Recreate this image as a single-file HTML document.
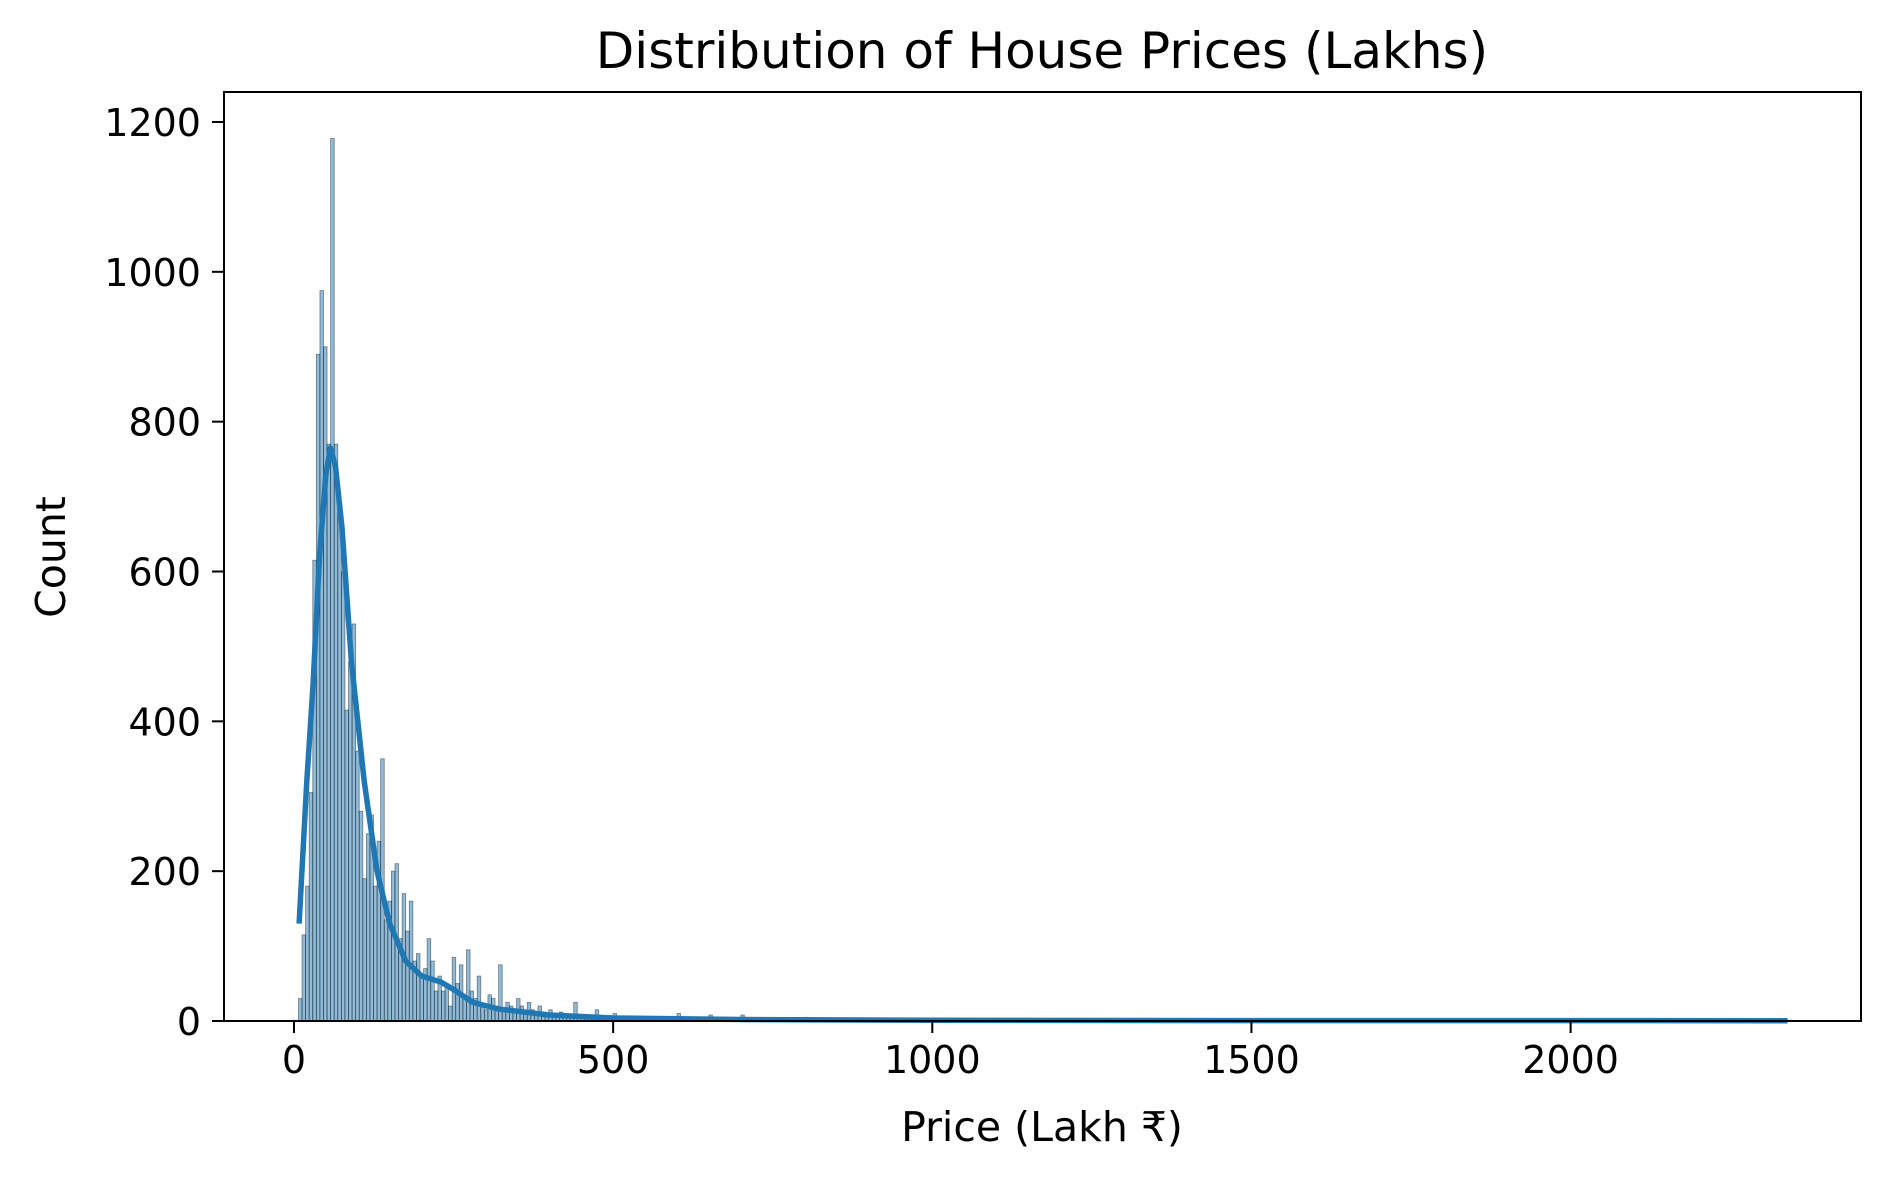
<!DOCTYPE html>
<html><head><meta charset="utf-8"><style>
body{margin:0;background:#fff}
svg text{font-family:"DejaVu Sans","Liberation Sans",sans-serif;fill:#000}
</style></head><body>
<svg id="chart" width="1881" height="1176" viewBox="0 0 1881 1176" xmlns="http://www.w3.org/2000/svg">
<rect width="1881" height="1176" fill="#fff"/>
<g id="bars"></g>
<g id="spikes"></g>
<path id="kde" fill="none" stroke="#1f77b4" stroke-width="5.5" stroke-linejoin="round"/>
<rect x="224" y="92" width="1637" height="929" fill="none" stroke="#000" stroke-width="2"/>
<g id="xticks"></g>
<g id="yticks"></g>
<text x="1042" y="68" font-size="50" text-anchor="middle">Distribution of House Prices (Lakhs)</text>
<text x="1042" y="1141" font-size="41" text-anchor="middle">Price (Lakh ₹)</text>
<text transform="translate(65,557) rotate(-90)" font-size="41" text-anchor="middle">Count</text>
</svg>
<script>
const binStart = 7;
const binWidth = 5.6;
const counts = [30,115,180,305,615,890,975,900,770,1178,770,685,600,415,480,530,360,280,190,250,275,180,240,350,135,160,200,210,110,170,120,160,80,90,60,70,110,80,40,60,40,50,20,85,50,75,30,95,40,30,60,20,15,35,30,20,75,15,25,20,15,30,20,12,25,15,10,20,12,8,15,10,8,12,6,8,5,25,5,6,4,5,3,15,4,3,2,3,10];
const tailPrices = [600,650,700,750,800,900,1000,1200,1500,2000,2340];
const tailCounts = [10,8,8,3,5,3,2,1,1,1,1];
const kdeX = [8,20,30,40,50,57,65,75,90,110,130,150,175,200,230,250,280,320,400,500,700,1000,1500,2340];
const kdeY = [130,320,450,620,730,765,740,660,480,320,200,130,80,60,52,42,25,16,8,4,2,1,0.6,0.4];
const xTicks = [0,500,1000,1500,2000];
const yTicks = [0,200,400,600,800,1000,1200];

const X = v => 294 + v * 0.6383;
const Y = v => 1021 - v * (899 / 1200);
const NS = 'http://www.w3.org/2000/svg';
function mk(tag, attrs, parent){const e=document.createElementNS(NS,tag);for(const k in attrs)e.setAttribute(k,attrs[k]);parent.appendChild(e);return e;}

const bars = document.getElementById('bars');
counts.forEach((c,i)=>{
  const x0 = X(binStart + i*binWidth), x1 = X(binStart + (i+1)*binWidth);
  const r = mk('rect',{x:x0,y:Y(c),width:x1-x0,height:Y(0)-Y(c),fill:'rgba(31,119,180,0.5)',stroke:'rgba(0,0,0,0.45)','stroke-width':0.8},bars);
  
  
});
const spikes = document.getElementById('spikes');
tailPrices.forEach((p,i)=>{
  const x0 = X(p), x1 = X(p+binWidth);
  const r = mk('rect',{x:x0,y:Y(tailCounts[i]),width:x1-x0,height:Y(0)-Y(tailCounts[i]),fill:'rgba(31,119,180,0.5)',stroke:'rgba(0,0,0,0.45)','stroke-width':0.8},spikes);
  
  
});
document.getElementById('kde').setAttribute('d', kdeX.map((x,i)=>(i?'L':'M')+X(x).toFixed(1)+' '+Y(kdeY[i]).toFixed(1)).join(' '));

const xt = document.getElementById('xticks');
xTicks.forEach(v=>{
  const l = mk('line',{x1:X(v),x2:X(v),y1:1021,y2:1033,stroke:'#000','stroke-width':2},xt);
  
  
  const t = mk('text',{x:X(v),y:1073,'font-size':38,'text-anchor':'middle'},xt);
  t.textContent = v;
  
  
});
const yt = document.getElementById('yticks');
yTicks.forEach(v=>{
  const l = mk('line',{x1:212,x2:224,y1:Y(v),y2:Y(v),stroke:'#000','stroke-width':2},yt);
  
  
  const t = mk('text',{x:201,y:Y(v)+14,'font-size':38,'text-anchor':'end'},yt);
  t.textContent = v;
  
  
});
</script>
</body></html>
